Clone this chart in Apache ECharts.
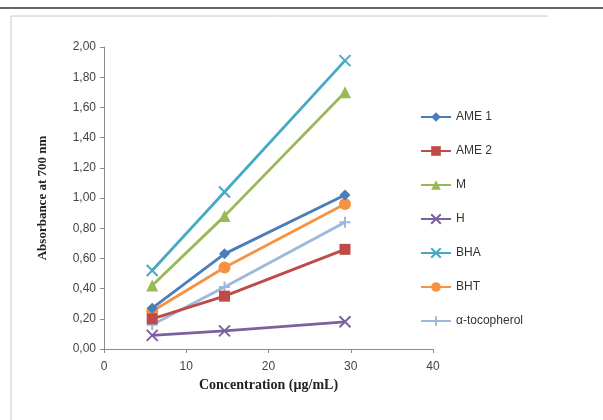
<!DOCTYPE html>
<html>
<head>
    <meta charset="utf-8">
    <title>Absorbance at 700 nm</title>
    <script src="https://cdn.jsdelivr.net/npm/echarts@6/dist/echarts.min.js"></script>
    <style>
        html, body { margin: 0; padding: 0; background: #fff; }
        #chart1 { width: 603px; height: 420px; }
    </style>
</head>
<body>
<div id="chart1"></div>
<script type="text/javascript">
    // 数据
    var concentrations = [5.86, 14.65, 29.3];
    var seriesNames = ['AME 1', 'AME 2', 'M', 'H', 'BHA', 'BHT', 'α-tocopherol'];
    var ame1 = [0.27, 0.63, 1.02];
    var ame2 = [0.20, 0.35, 0.66];
    var m = [0.42, 0.88, 1.70];
    var h = [0.09, 0.12, 0.18];
    var bha = [0.52, 1.04, 1.91];
    var bht = [0.25, 0.54, 0.96];
    var tocopherol = [0.16, 0.41, 0.84];

    var colors = ['#4A7EBB', '#BE4B48', '#98B954', '#7D60A0', '#46AAC5', '#F69240', '#9DB7DD'];
    var symbols = [
        'diamond',
        'rect',
        'triangle',
        'path://M0,0L10,10M10,0L0,10',
        'path://M0,0L10,10M10,0L0,10',
        'circle',
        'path://M0,5L10,5M5,0L5,10'
    ];
    var sizes = [11, 11, 12, 11, 11, 12, 11];
    var values = [ame1, ame2, m, h, bha, bht, tocopherol];

    var labelFont = '"Liberation Sans Narrow", "Liberation Sans", sans-serif';
    var titleFont = '"Liberation Serif", "DejaVu Serif", serif';

    function pairs(ys) {
        var out = [];
        for (var i = 0; i < ys.length; i++) {
            out.push([concentrations[i], ys[i]]);
        }
        return out;
    }

    var series = [];
    for (var i = 0; i < seriesNames.length; i++) {
        var isPath = symbols[i].indexOf('path://') === 0;
        series.push({
            name: seriesNames[i],
            type: 'line',
            data: pairs(values[i]),
            symbol: symbols[i],
            symbolSize: sizes[i],
            showAllSymbol: true,
            lineStyle: { color: colors[i], width: 2.8 },
            itemStyle: {
                color: colors[i],
                borderColor: colors[i],
                borderWidth: isPath ? 2 : 0
            },
            emphasis: { disabled: true },
            z: 10 - i
        });
    }

    var myChart1 = echarts.init(document.getElementById('chart1'));
    myChart1.setOption({
        animation: false,
        backgroundColor: '#fff',
        graphic: [
            { type: 'line', shape: { x1: 0, y1: 8, x2: 603, y2: 8 }, style: { stroke: '#666', lineWidth: 2 } },
            { type: 'line', shape: { x1: 11, y1: 16, x2: 548, y2: 16 }, style: { stroke: '#c8c8c8', lineWidth: 1 } },
            { type: 'line', shape: { x1: 11, y1: 16, x2: 11, y2: 420 }, style: { stroke: '#c8c8c8', lineWidth: 1 } }
        ],
        grid: { left: 104, right: 170, top: 47, bottom: 71 },
        legend: {
            orient: 'vertical',
            left: 415,
            top: 106,
            itemWidth: 30,
            itemHeight: 12,
            itemGap: 22,
            textStyle: { fontFamily: labelFont, fontSize: 12, color: '#333' },
            data: seriesNames
        },
        xAxis: {
            type: 'value',
            min: 0,
            max: 40,
            interval: 10,
            name: 'Concentration (µg/mL)',
            nameLocation: 'middle',
            nameGap: 28,
            nameTextStyle: { fontFamily: titleFont, fontWeight: 'bold', fontSize: 14, color: '#222' },
            axisLine: { lineStyle: { color: '#8c8c8c' } },
            axisTick: { show: true, length: 4, lineStyle: { color: '#8c8c8c' } },
            axisLabel: { fontFamily: labelFont, fontSize: 12, color: '#444', margin: 12 },
            splitLine: { show: false }
        },
        yAxis: {
            type: 'value',
            min: 0,
            max: 2,
            interval: 0.2,
            name: 'Absorbance at 700 nm',
            nameLocation: 'middle',
            nameGap: 55,
            nameRotate: 90,
            nameTextStyle: { fontFamily: titleFont, fontWeight: 'bold', fontSize: 13, color: '#222' },
            axisLine: { show: true, lineStyle: { color: '#8c8c8c' } },
            axisTick: { show: true, length: 4, lineStyle: { color: '#8c8c8c' } },
            axisLabel: {
                fontFamily: labelFont, fontSize: 12, color: '#444', margin: 8,
                formatter: function (v) { return v.toFixed(2).replace('.', ','); }
            },
            splitLine: { show: false }
        },
        series: series
    });
</script>
</body>
</html>
